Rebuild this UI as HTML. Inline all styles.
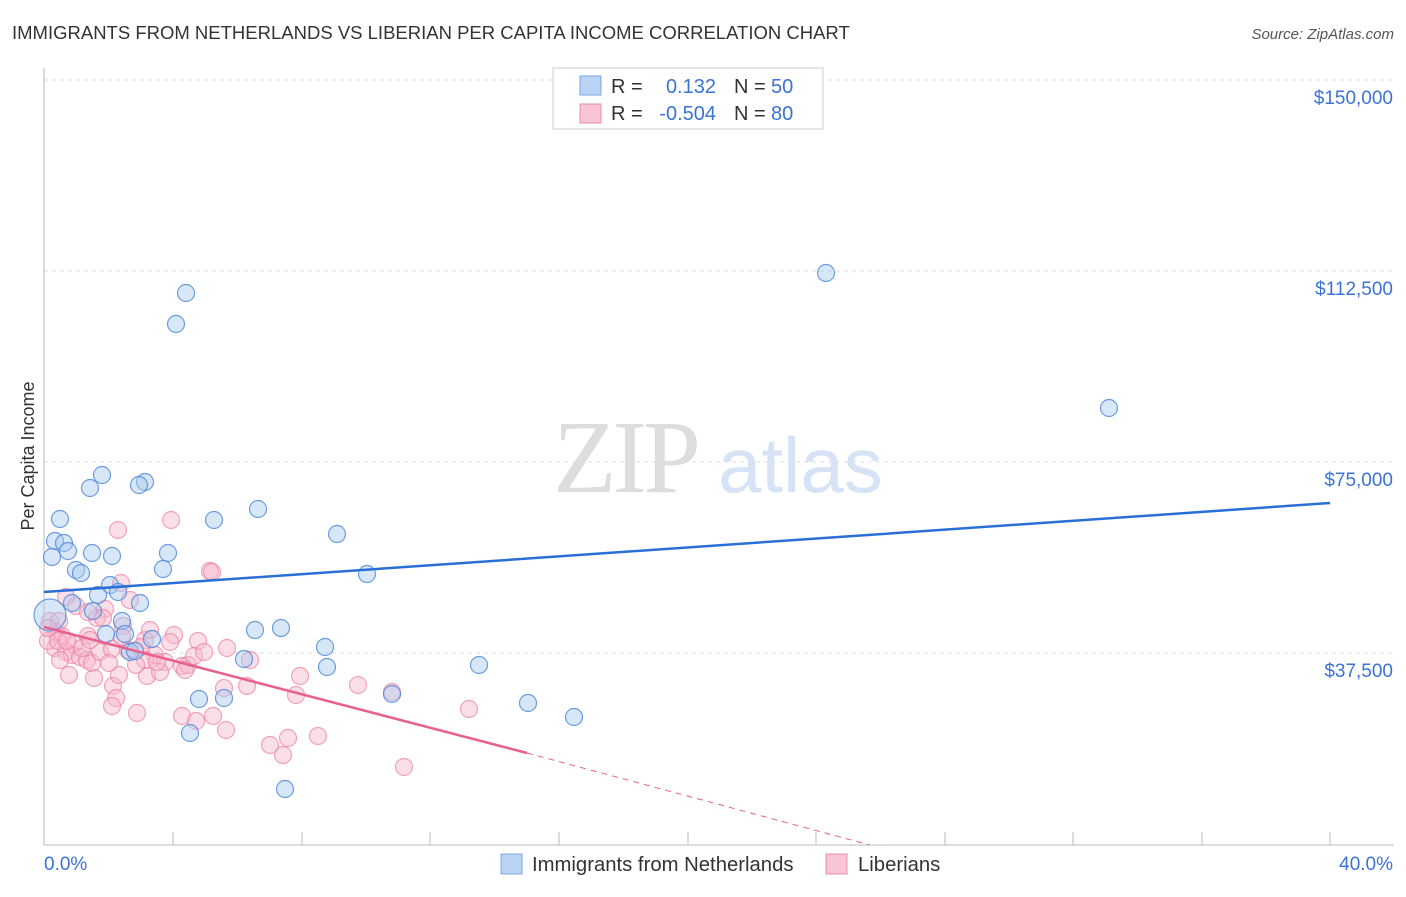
<!DOCTYPE html>
<html><head><meta charset="utf-8"><style>
body{margin:0;background:#fff;font-family:"Liberation Sans",sans-serif}
</style></head><body>
<svg width="1406" height="892" xmlns="http://www.w3.org/2000/svg" font-family="Liberation Sans, sans-serif">
<text x="12" y="39" font-size="18.5" fill="#333">IMMIGRANTS FROM NETHERLANDS VS LIBERIAN PER CAPITA INCOME CORRELATION CHART</text>
<text x="1394" y="39" font-size="15" fill="#555" text-anchor="end" font-style="italic">Source: ZipAtlas.com</text>
<g stroke="#ddd" stroke-dasharray="4,4" stroke-width="1">
<line x1="44" y1="80" x2="1394" y2="80"/><line x1="44" y1="271" x2="1394" y2="271"/><line x1="44" y1="462" x2="1394" y2="462"/><line x1="44" y1="653" x2="1394" y2="653"/>
</g>
<line x1="44" y1="68" x2="44" y2="845" stroke="#bbb"/>
<line x1="44" y1="845" x2="1394" y2="845" stroke="#bbb"/>
<g stroke="#bbb"><line x1="173" y1="832" x2="173" y2="845"/><line x1="302" y1="832" x2="302" y2="845"/><line x1="430" y1="832" x2="430" y2="845"/><line x1="559" y1="832" x2="559" y2="845"/><line x1="688" y1="832" x2="688" y2="845"/><line x1="816" y1="832" x2="816" y2="845"/><line x1="945" y1="832" x2="945" y2="845"/><line x1="1073" y1="832" x2="1073" y2="845"/><line x1="1202" y1="832" x2="1202" y2="845"/><line x1="1330" y1="832" x2="1330" y2="845"/></g>
<g font-size="19" fill="#3b73d4" text-anchor="end">
<text x="1393" y="104">$150,000</text><text x="1393" y="295">$112,500</text><text x="1393" y="486">$75,000</text><text x="1393" y="677">$37,500</text>
</g>
<text x="44" y="870" font-size="19" fill="#3b73d4">0.0%</text>
<text x="1393" y="870" font-size="19" fill="#3b73d4" text-anchor="end">40.0%</text>
<text transform="translate(34,456) rotate(-90)" font-size="18" fill="#333" text-anchor="middle">Per Capita Income</text>
<text x="553" y="492" font-size="104" fill="#ddd" font-family="Liberation Serif, serif" letter-spacing="-4">ZIP</text>
<text x="718" y="492" font-size="78" fill="#d6e2f5">atlas</text>
<g fill="#f7b8cb" fill-opacity="0.45" stroke="#ec7fa0" stroke-opacity="0.7" stroke-width="1.2">
<circle cx="118" cy="530" r="8.5"/><circle cx="171" cy="520" r="8.5"/><circle cx="210" cy="571" r="8.5"/><circle cx="212" cy="572" r="8.5"/><circle cx="121" cy="583" r="8.5"/><circle cx="66" cy="597" r="8.5"/><circle cx="76" cy="606" r="8.5"/><circle cx="130" cy="600" r="8.5"/><circle cx="105" cy="609" r="8.5"/><circle cx="97" cy="618" r="8.5"/><circle cx="123" cy="626" r="8.5"/><circle cx="50" cy="621" r="8.5"/><circle cx="56" cy="632" r="8.5"/><circle cx="62" cy="636" r="8.5"/><circle cx="145" cy="640" r="8.5"/><circle cx="174" cy="635" r="8.5"/><circle cx="198" cy="641" r="8.5"/><circle cx="88" cy="636" r="8.5"/><circle cx="74" cy="644" r="8.5"/><circle cx="55" cy="648" r="8.5"/><circle cx="66" cy="652" r="8.5"/><circle cx="72" cy="655" r="8.5"/><circle cx="80" cy="657" r="8.5"/><circle cx="87" cy="660" r="8.5"/><circle cx="92" cy="663" r="8.5"/><circle cx="100" cy="652" r="8.5"/><circle cx="112" cy="649" r="8.5"/><circle cx="128" cy="650" r="8.5"/><circle cx="155" cy="655" r="8.5"/><circle cx="165" cy="662" r="8.5"/><circle cx="182" cy="666" r="8.5"/><circle cx="188" cy="665" r="8.5"/><circle cx="194" cy="656" r="8.5"/><circle cx="227" cy="648" r="8.5"/><circle cx="170" cy="642" r="8.5"/><circle cx="60" cy="660" r="8.5"/><circle cx="69" cy="675" r="8.5"/><circle cx="94" cy="678" r="8.5"/><circle cx="113" cy="686" r="8.5"/><circle cx="119" cy="675" r="8.5"/><circle cx="147" cy="676" r="8.5"/><circle cx="160" cy="672" r="8.5"/><circle cx="185" cy="670" r="8.5"/><circle cx="145" cy="660" r="8.5"/><circle cx="109" cy="663" r="8.5"/><circle cx="136" cy="665" r="8.5"/><circle cx="250" cy="660" r="8.5"/><circle cx="116" cy="698" r="8.5"/><circle cx="112" cy="706" r="8.5"/><circle cx="137" cy="713" r="8.5"/><circle cx="182" cy="716" r="8.5"/><circle cx="196" cy="721" r="8.5"/><circle cx="213" cy="716" r="8.5"/><circle cx="226" cy="730" r="8.5"/><circle cx="224" cy="688" r="8.5"/><circle cx="247" cy="686" r="8.5"/><circle cx="300" cy="676" r="8.5"/><circle cx="358" cy="685" r="8.5"/><circle cx="296" cy="695" r="8.5"/><circle cx="392" cy="692" r="8.5"/><circle cx="469" cy="709" r="8.5"/><circle cx="270" cy="745" r="8.5"/><circle cx="283" cy="755" r="8.5"/><circle cx="288" cy="738" r="8.5"/><circle cx="318" cy="736" r="8.5"/><circle cx="404" cy="767" r="8.5"/><circle cx="48" cy="641" r="8.5"/><circle cx="59" cy="621" r="8.5"/><circle cx="88" cy="612" r="8.5"/><circle cx="103" cy="618" r="8.5"/><circle cx="141" cy="647" r="8.5"/><circle cx="157" cy="662" r="8.5"/><circle cx="204" cy="652" r="8.5"/><circle cx="58" cy="641" r="8.5"/><circle cx="82" cy="648" r="8.5"/><circle cx="67" cy="641" r="8.5"/><circle cx="122" cy="637" r="8.5"/><circle cx="48" cy="628" r="8.5"/><circle cx="90" cy="640" r="8.5"/><circle cx="150" cy="630" r="8.5"/>
</g>
<g fill="#a9c9f0" fill-opacity="0.45" stroke="#4a86d8" stroke-opacity="0.8" stroke-width="1.2">
<circle cx="186" cy="293" r="8.5"/><circle cx="176" cy="324" r="8.5"/><circle cx="826" cy="273" r="8.5"/><circle cx="1109" cy="408" r="8.5"/><circle cx="102" cy="475" r="8.5"/><circle cx="90" cy="488" r="8.5"/><circle cx="145" cy="482" r="8.5"/><circle cx="139" cy="485" r="8.5"/><circle cx="60" cy="519" r="8.5"/><circle cx="214" cy="520" r="8.5"/><circle cx="258" cy="509" r="8.5"/><circle cx="337" cy="534" r="8.5"/><circle cx="55" cy="541" r="8.5"/><circle cx="64" cy="543" r="8.5"/><circle cx="68" cy="551" r="8.5"/><circle cx="92" cy="553" r="8.5"/><circle cx="112" cy="556" r="8.5"/><circle cx="168" cy="553" r="8.5"/><circle cx="52" cy="557" r="8.5"/><circle cx="76" cy="570" r="8.5"/><circle cx="81" cy="573" r="8.5"/><circle cx="163" cy="569" r="8.5"/><circle cx="367" cy="574" r="8.5"/><circle cx="110" cy="585" r="8.5"/><circle cx="118" cy="592" r="8.5"/><circle cx="98" cy="595" r="8.5"/><circle cx="140" cy="603" r="8.5"/><circle cx="72" cy="603" r="8.5"/><circle cx="93" cy="611" r="8.5"/><circle cx="122" cy="621" r="8.5"/><circle cx="106" cy="634" r="8.5"/><circle cx="125" cy="634" r="8.5"/><circle cx="152" cy="639" r="8.5"/><circle cx="255" cy="630" r="8.5"/><circle cx="281" cy="628" r="8.5"/><circle cx="325" cy="647" r="8.5"/><circle cx="130" cy="652" r="8.5"/><circle cx="135" cy="651" r="8.5"/><circle cx="244" cy="659" r="8.5"/><circle cx="327" cy="667" r="8.5"/><circle cx="479" cy="665" r="8.5"/><circle cx="199" cy="699" r="8.5"/><circle cx="224" cy="698" r="8.5"/><circle cx="392" cy="694" r="8.5"/><circle cx="528" cy="703" r="8.5"/><circle cx="574" cy="717" r="8.5"/><circle cx="190" cy="733" r="8.5"/><circle cx="285" cy="789" r="8.5"/><circle cx="50" cy="615" r="16"/>
</g>
<line x1="44" y1="592" x2="1330" y2="503" stroke="#2a6fd6" stroke-width="2.5"/>
<line x1="44" y1="627" x2="527" y2="753" stroke="#e8618c" stroke-width="2.5"/>
<line x1="527" y1="753" x2="870" y2="845" stroke="#e8618c" stroke-width="1" stroke-dasharray="6,5"/>
<rect x="553" y="68" width="270" height="61" fill="#fff" stroke="#ccc"/>
<rect x="580" y="76" width="21" height="19" fill="#b9d3f5" stroke="#7aa7e6"/>
<rect x="580" y="104" width="21" height="19" fill="#f9c4d3" stroke="#eb8eab"/>
<g font-size="20"><text x="611" y="93" fill="#333">R =</text><text x="716" y="93" fill="#3b73d4" text-anchor="end">0.132</text><text x="734" y="93" fill="#333">N =</text><text x="771" y="93" fill="#3b73d4">50</text>
<text x="611" y="120" fill="#333">R =</text><text x="716" y="120" fill="#3b73d4" text-anchor="end">-0.504</text><text x="734" y="120" fill="#333">N =</text><text x="771" y="120" fill="#3b73d4">80</text></g>
<rect x="501" y="854" width="21" height="20" fill="#b9d3f5" stroke="#7aa7e6"/>
<text x="532" y="871" font-size="20.3" fill="#333">Immigrants from Netherlands</text>
<rect x="826" y="854" width="21" height="20" fill="#f9c4d3" stroke="#eb8eab"/>
<text x="858" y="871" font-size="20.3" fill="#333">Liberians</text>
</svg>
</body></html>
